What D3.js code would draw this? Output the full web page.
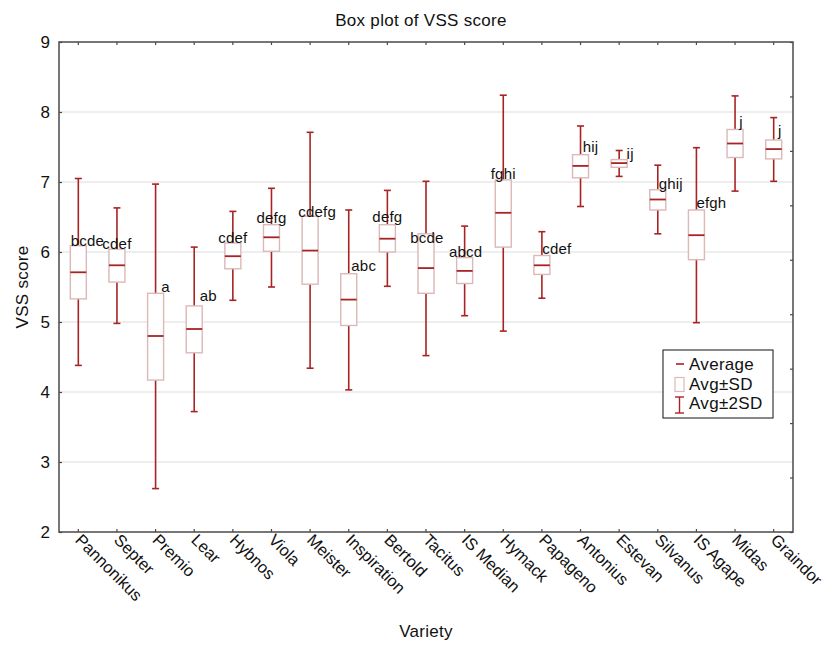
<!DOCTYPE html>
<html>
<head>
<meta charset="utf-8">
<script src="https://cdn.jsdelivr.net/npm/d3@7"></script>
<style>
  body { margin: 0; background: #fff; }
  svg { display: block; font-family: "Liberation Sans", Arial, sans-serif; }
</style>
</head>
<body>
<svg id="chart" width="826" height="647"></svg>
<script>
// ---- data ----
const varieties = ["Pannonikus","Septer","Premio","Lear","Hybnos","Viola","Meister","Inspiration","Bertold","Tacitus","IS Median","Hymack","Papageno","Antonius","Estevan","Silvanus","IS Agape","Midas","Graindor"];
const average   = [5.71, 5.81, 4.80, 4.90, 5.94, 6.21, 6.02, 5.32, 6.19, 5.77, 5.73, 6.56, 5.81, 7.23, 7.27, 6.75, 6.24, 7.55, 7.47];
const sdLow     = [5.33, 5.57, 4.17, 4.56, 5.76, 6.01, 5.54, 4.95, 6.00, 5.41, 5.55, 6.07, 5.68, 7.06, 7.21, 6.60, 5.89, 7.35, 7.33];
const sdHigh    = [6.09, 6.04, 5.41, 5.23, 6.13, 6.39, 6.51, 5.69, 6.39, 6.26, 5.92, 7.03, 5.95, 7.39, 7.32, 6.89, 6.60, 7.75, 7.60];
const sd2Low    = [4.38, 4.98, 2.62, 3.72, 5.31, 5.50, 4.34, 4.03, 5.51, 4.52, 5.09, 4.87, 5.34, 6.65, 7.08, 6.26, 4.99, 6.87, 7.01];
const sd2High   = [7.05, 6.63, 6.97, 6.07, 6.58, 6.91, 7.71, 6.60, 6.88, 7.01, 6.37, 8.24, 6.29, 7.80, 7.45, 7.24, 7.49, 8.23, 7.92];
const groups    = ["bcde","cdef","a","ab","cdef","defg","cdefg","abc","defg","bcde","abcd","fghi","cdef","hij","ij","ghij","efgh","j","j"];
const yTicks    = [2, 3, 4, 5, 6, 7, 8, 9];

// label placement tweaks (pixels, layout only)
const labelDx = [9, 0, 10, 14, 0, 0, 7, 15, 0, 1, 1, 0, 15, 10, 11, 13, 15, 6, 6];
const labelDy = [0, 0, -1, -5, 0, -2, 1, -3, -3, 9, -1, -1, -2, -3, -1, -1, -2, -3, -4];

const rows = varieties.map((v, i) => ({
  name: v, avg: average[i], lo: sdLow[i], hi: sdHigh[i], lo2: sd2Low[i], hi2: sd2High[i],
  grp: groups[i], dx: labelDx[i], dy: labelDy[i]
}));

// ---- layout ----
const M = { left: 59, right: 793, top: 42, bottom: 532 };
const svg = d3.select("#chart");
const dark = "#a82424";
const boxCol = "#dcb8b8";
const frameCol = "#4a4a4a";
const fontTxt = 17, ls = "0.3px";

const x = d3.scaleBand().domain(varieties).range([M.left, M.right]).paddingInner(0).paddingOuter(0);
const y = d3.scaleLinear().domain([2, 9]).range([M.bottom, M.top]);
const yRight = d3.scaleLinear().domain([0, 9]).range([M.bottom, M.top]);
const cx = d => x(d) + x.bandwidth() / 2;

// grid
svg.append("g").selectAll("line").data(yTicks.filter(t => t > 2 && t < 9)).join("line")
  .attr("x1", M.left).attr("x2", M.right)
  .attr("y1", d => y(d)).attr("y2", d => y(d))
  .attr("stroke", "#e8e8e8").attr("stroke-width", 1.5);

// axes (ticks inside)
const axL = svg.append("g").attr("transform", `translate(${M.left},0)`)
  .call(d3.axisLeft(y).tickValues(yTicks).tickSizeInner(-3).tickSizeOuter(0).tickPadding(9).tickFormat(d3.format("d")));
const axR = svg.append("g").attr("transform", `translate(${M.right},0)`)
  .call(d3.axisRight(yRight).ticks(9).tickSizeInner(-3).tickSizeOuter(0).tickFormat(""));
const axT = svg.append("g").attr("transform", `translate(0,${M.top})`)
  .call(d3.axisTop(x).tickSizeInner(-3).tickSizeOuter(0).tickFormat(""));
const axB = svg.append("g").attr("transform", `translate(0,${M.bottom})`)
  .call(d3.axisBottom(x).tickSizeInner(-3).tickSizeOuter(0).tickFormat(""));
[axL, axR, axT, axB].forEach(a => {
  a.select(".domain").remove();
  a.selectAll(".tick line").attr("stroke", frameCol).attr("stroke-width", 1.2);
});
axL.selectAll(".tick text").attr("font-size", 17).attr("fill", "#111")
  .style("font-family", "Liberation Sans, Arial, sans-serif");

// category labels rotated
svg.append("g").selectAll("text").data(varieties).join("text")
  .attr("transform", d => `translate(${cx(d) - 4},${M.bottom + 9}) rotate(45)`)
  .attr("text-anchor", "start")
  .attr("font-size", 16.5).attr("fill", "#111")
  .text(d => d);

// boxes
const g = svg.append("g").selectAll("g").data(rows).join("g");
const capW = 7, boxW = 16;
g.append("line")
  .attr("x1", d => cx(d.name)).attr("x2", d => cx(d.name))
  .attr("y1", d => y(d.hi2)).attr("y2", d => y(d.lo2))
  .attr("stroke", dark).attr("stroke-width", 1.6);
g.append("line")
  .attr("x1", d => cx(d.name) - capW / 2).attr("x2", d => cx(d.name) + capW / 2)
  .attr("y1", d => y(d.hi2)).attr("y2", d => y(d.hi2))
  .attr("stroke", dark).attr("stroke-width", 1.6);
g.append("line")
  .attr("x1", d => cx(d.name) - capW / 2).attr("x2", d => cx(d.name) + capW / 2)
  .attr("y1", d => y(d.lo2)).attr("y2", d => y(d.lo2))
  .attr("stroke", dark).attr("stroke-width", 1.6);
g.append("rect")
  .attr("x", d => cx(d.name) - boxW / 2).attr("width", boxW)
  .attr("y", d => y(d.hi)).attr("height", d => y(d.lo) - y(d.hi))
  .attr("fill", "#fff").attr("stroke", boxCol).attr("stroke-width", 1.4);
g.append("line")
  .attr("x1", d => cx(d.name) - boxW / 2).attr("x2", d => cx(d.name) + boxW / 2)
  .attr("y1", d => y(d.avg)).attr("y2", d => y(d.avg))
  .attr("stroke", dark).attr("stroke-width", 1.8);
g.append("text")
  .attr("x", d => cx(d.name) + d.dx).attr("y", d => y(d.hi) + d.dy)
  .attr("text-anchor", "middle").attr("font-size", 15).attr("letter-spacing", "0.2px")
  .attr("fill", "#111").text(d => d.grp);

// frame
svg.append("rect").attr("x", M.left).attr("y", M.top)
  .attr("width", M.right - M.left).attr("height", M.bottom - M.top)
  .attr("fill", "none").attr("stroke", frameCol).attr("stroke-width", 1.5);

// titles
svg.append("text").attr("x", (M.left + M.right) / 2 - 5).attr("y", 26)
  .attr("text-anchor", "middle").attr("font-size", fontTxt).attr("letter-spacing", ls).attr("fill", "#111")
  .text("Box plot of VSS score");
svg.append("text").attr("x", (M.left + M.right) / 2).attr("y", 637)
  .attr("text-anchor", "middle").attr("font-size", fontTxt).attr("letter-spacing", ls).attr("fill", "#111")
  .text("Variety");
svg.append("text").attr("transform", `translate(28,${(M.top + M.bottom) / 2}) rotate(-90)`)
  .attr("text-anchor", "middle").attr("font-size", fontTxt).attr("letter-spacing", ls).attr("fill", "#111")
  .text("VSS score");

// legend
const lg = svg.append("g").attr("transform", "translate(663,350)");
lg.append("rect").attr("width", 110).attr("height", 68)
  .attr("fill", "#fff").attr("stroke", "#111").attr("stroke-width", 1);
lg.append("line").attr("x1", 13).attr("x2", 21).attr("y1", 14).attr("y2", 14)
  .attr("stroke", dark).attr("stroke-width", 1.6);
lg.append("rect").attr("x", 12).attr("y", 27.5).attr("width", 9).attr("height", 14)
  .attr("fill", "#fff").attr("stroke", boxCol).attr("stroke-width", 1.2);
lg.append("line").attr("x1", 16.5).attr("x2", 16.5).attr("y1", 47).attr("y2", 63)
  .attr("stroke", dark).attr("stroke-width", 1.4);
lg.append("line").attr("x1", 12).attr("x2", 21).attr("y1", 47).attr("y2", 47)
  .attr("stroke", dark).attr("stroke-width", 1.4);
lg.append("line").attr("x1", 12).attr("x2", 21).attr("y1", 63).attr("y2", 63)
  .attr("stroke", dark).attr("stroke-width", 1.4);
const lgLabels = ["Average", "Avg\u00b1SD", "Avg\u00b12SD"];
lg.selectAll("text.l").data(lgLabels).join("text")
  .attr("x", 26).attr("y", (d, i) => 20 + i * 19.5)
  .attr("font-size", fontTxt).attr("letter-spacing", ls).attr("fill", "#111").text(d => d);
</script>
</body>
</html>
